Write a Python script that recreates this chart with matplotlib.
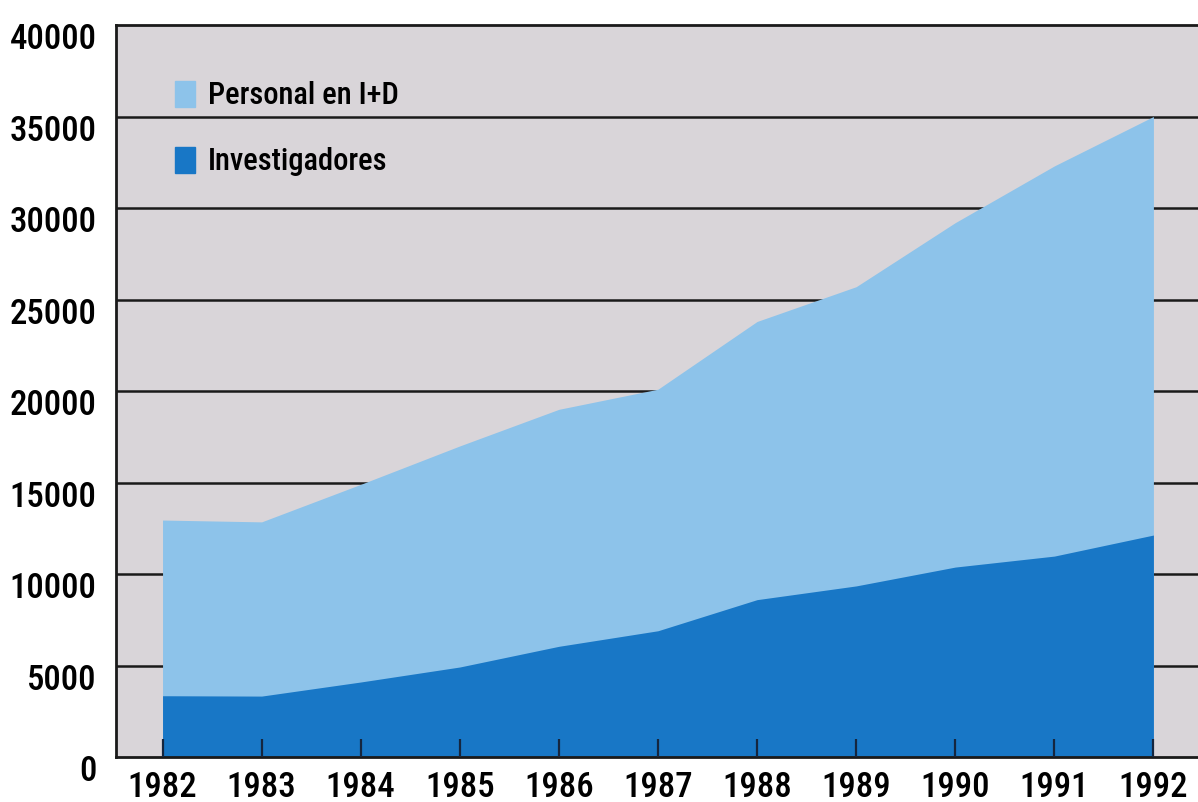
import matplotlib.pyplot as plt
import matplotlib.transforms as mtransforms
from matplotlib.patches import Rectangle

plt.rcParams['font.family'] = ['Roboto Condensed', 'DejaVu Sans Condensed', 'Roboto', 'DejaVu Sans']

# data
years = [1982, 1983, 1984, 1985, 1986, 1987, 1988, 1989, 1990, 1991, 1992]
personal = [12950, 12850, 14900, 17000, 19000, 20100, 23800, 25700, 29200, 32300, 35000]
investigadores = [3350, 3330, 4100, 4920, 6050, 6900, 8600, 9350, 10380, 10980, 12130]
yticks = [0, 5000, 10000, 15000, 20000, 25000, 30000, 35000, 40000]

light_blue = '#8dc3ea'
dark_blue = '#1877c6'
bg_gray = '#d9d5d9'

fig = plt.figure(figsize=(11.98, 8.03), dpi=100)
ax = fig.add_axes([0.0968, 0.056, 0.9032, 0.9116])
ax.set_facecolor(bg_gray)

for y in yticks[1:-1]:
    ax.axhline(y, color='#1a1a1a', lw=1.8, zorder=0.5)

ax.fill_between(years, 0, personal, color=light_blue, lw=0, zorder=1)
ax.fill_between(years, 0, investigadores, color=dark_blue, lw=0, zorder=2)

ax.set_xlim(1981.53, 1992.45)
ax.set_ylim(0, 40000)
ax.set_xticks(years)
ax.set_yticks(yticks)
ax.set_axisbelow(False)

ax.tick_params(axis='x', direction='in', length=13, width=1.6, color='#15263f',
               labelsize=25, pad=9)
ax.tick_params(axis='y', length=0, labelsize=25, pad=14)
for lab in ax.get_xticklabels() + ax.get_yticklabels():
    lab.set_fontweight('medium')

offset = mtransforms.ScaledTranslation(0, -10 / 100, fig.dpi_scale_trans)
for lab in ax.get_yticklabels():
    lab.set_transform(lab.get_transform() + offset)

for s in ['left', 'top', 'bottom']:
    ax.spines[s].set_linewidth(2)
    ax.spines[s].set_color('#1a1a1a')
ax.spines['right'].set_visible(False)

# legend drawn by hand in axes pixels
ax_w, ax_h = 1198 - 116, 732
legend_items = [('Personal en I+D', light_blue, 95), ('Investigadores', dark_blue, 161)]
for label, col, ypix in legend_items:
    yf = 1 - (ypix - 26) / ax_h
    x0 = (175 - 116) / ax_w
    ax.add_patch(Rectangle((x0, yf - 13 / ax_h), 20 / ax_w, 26 / ax_h,
                           transform=ax.transAxes, color=col, zorder=5))
    ax.text((208 - 116) / ax_w, yf, label, transform=ax.transAxes,
            fontsize=22, fontweight='medium', va='center', ha='left', zorder=5)

fig.savefig('out.png', dpi=100)
